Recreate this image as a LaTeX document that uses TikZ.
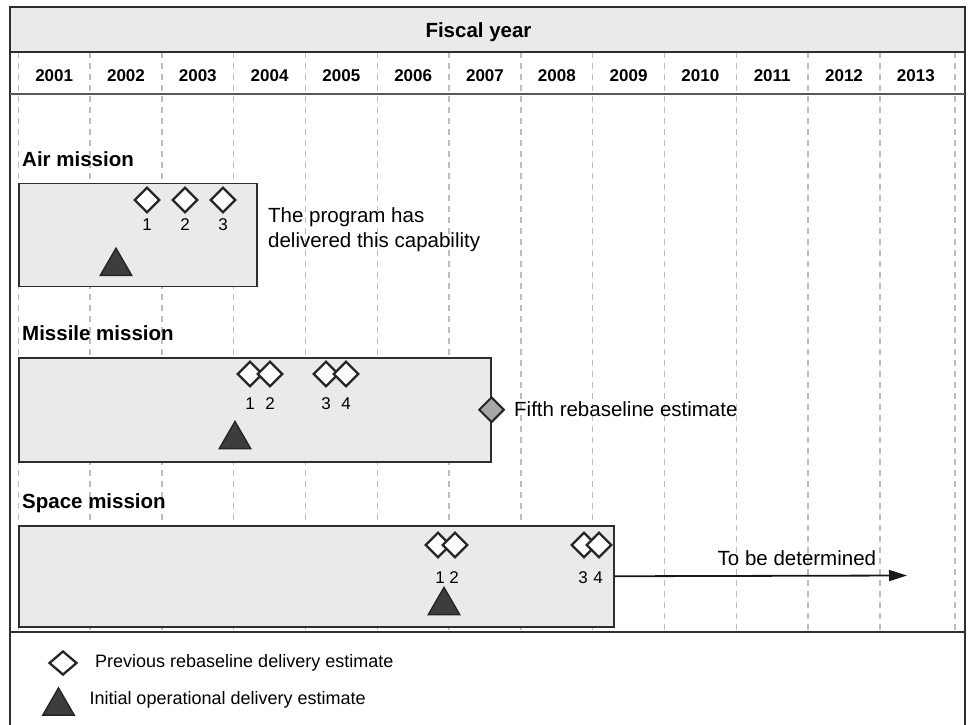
\documentclass[tikz,border=0pt]{standalone}
\usepackage{fontspec}
\setmainfont{Liberation Sans}
\usetikzlibrary{shapes.geometric, arrows.meta}

\definecolor{panel}{HTML}{EAEAEC}
\definecolor{rule}{HTML}{2E2E2E}
\definecolor{gridgray}{HTML}{BDBDBD}
\definecolor{iocfill}{HTML}{3D3D3D}
\definecolor{fifthfill}{HTML}{A6A7A9}

\begin{document}
\begin{tikzpicture}[x=1pt, y=-1pt,
        year/.style={font=\fontsize{17}{20}\selectfont\bfseries, anchor=base, inner sep=0},
        title/.style={font=\fontsize{20.5}{25}\selectfont\bfseries, anchor=base west, inner sep=0},
        txt/.style={font=\fontsize{20.5}{25}\selectfont, inner sep=0},
        num/.style={font=\fontsize{17}{20}\selectfont, anchor=base, inner sep=0},
        legendtxt/.style={font=\fontsize{18}{22}\selectfont, anchor=base west, inner sep=0},
        mission/.style={draw=rule, line width=1.5pt, fill=panel, anchor=north west, inner sep=0},
        estimate/.style={diamond, draw=black!85, line width=2.3pt, fill=white, inner sep=0, minimum width=25.5pt, minimum height=25.5pt},
        ioc/.style={regular polygon, regular polygon sides=3, draw=black!85, line width=1.5pt, fill=iocfill, inner sep=0, minimum size=36pt},
        yearline/.style={gridgray, line width=1.4pt, dash pattern=on 6pt off 5pt}]
        \useasboundingbox (0, 0) rectangle (970, 725);

        \draw[yearline] (18.3, 52) -- (18.3, 632);
        \draw[yearline] (90.1, 52) -- (90.1, 632);
        \draw[yearline] (161.9, 52) -- (161.9, 632);
        \draw[yearline] (233.7, 52) -- (233.7, 632);
        \draw[yearline] (305.5, 52) -- (305.5, 632);
        \draw[yearline] (377.3, 52) -- (377.3, 632);
        \draw[yearline] (449.1, 52) -- (449.1, 632);
        \draw[yearline] (520.9, 52) -- (520.9, 632);
        \draw[yearline] (592.7, 52) -- (592.7, 632);
        \draw[yearline] (664.5, 52) -- (664.5, 632);
        \draw[yearline] (736.3, 52) -- (736.3, 632);
        \draw[yearline] (808.1, 52) -- (808.1, 632);
        \draw[yearline] (879.9, 52) -- (879.9, 632);
        \draw[yearline] (955, 52) -- (955, 632);

        \draw[rule, line width=1.6pt, fill=panel] (10, 7) rectangle (965, 52);
        \draw[rule, line width=1.6pt] (10, 52) -- (10, 730);
        \draw[rule, line width=1.6pt] (965, 52) -- (965, 730);
        \draw[black!65, line width=1.6pt] (10, 94) -- (965, 94);
        \draw[rule, line width=1.3pt] (10, 632) -- (965, 632);

        \node[title, anchor=base] (fiscal) at (478.5, 37.7) {Fiscal year};

        \node[year] (y2001) at (54.2, 81.7) {2001};
        \node[year] (y2002) at (126, 81.7) {2002};
        \node[year] (y2003) at (197.8, 81.7) {2003};
        \node[year] (y2004) at (269.6, 81.7) {2004};
        \node[year] (y2005) at (341.4, 81.7) {2005};
        \node[year] (y2006) at (413.2, 81.7) {2006};
        \node[year] (y2007) at (485, 81.7) {2007};
        \node[year] (y2008) at (556.8, 81.7) {2008};
        \node[year] (y2009) at (628.6, 81.7) {2009};
        \node[year] (y2010) at (700.4, 81.7) {2010};
        \node[year] (y2011) at (772.2, 81.7) {2011};
        \node[year] (y2012) at (844, 81.7) {2012};
        \node[year] (y2013) at (915.8, 81.7) {2013};

        \node[title] (air) at (22, 166) {Air mission};
        \node[mission, minimum width=237.7pt, minimum height=103pt] (airbox) at (18.3, 182.7) {};
        \node[estimate] (a1) at (147, 200) {};
        \node[estimate] (a2) at (185, 200) {};
        \node[estimate] (a3) at (223, 200) {};
        \node[num] (na1) at (147, 230.7) {1};
        \node[num] (na2) at (185, 230.7) {2};
        \node[num] (na3) at (223, 230.7) {3};
        \node[ioc] (aioc) at (116, 266.3) {};
        \node[txt, anchor=west, align=left] (delivered) at (268, 229.5) {The program has\\delivered this capability};

        \node[title] (missile) at (22, 340) {Missile mission};
        \node[mission, minimum width=471.7pt, minimum height=104pt] (missilebox) at (18.3, 357) {};
        \node[estimate] (m1) at (250, 374) {};
        \node[estimate] (m2) at (270, 374) {};
        \node[estimate] (m3) at (326, 374) {};
        \node[estimate] (m4) at (346, 374) {};
        \node[num] (nm1) at (250, 409.6) {1};
        \node[num] (nm2) at (270, 409.6) {2};
        \node[num] (nm3) at (326, 409.6) {3};
        \node[num] (nm4) at (346, 409.6) {4};
        \node[ioc] (mioc) at (235, 439.5) {};
        \node[estimate, fill=fifthfill, line width=2pt] (fifth) at (missilebox.east) {};
        \node[txt, anchor=base west] (fifthtext) at (514, 416) {Fifth rebaseline estimate};

        \node[title] (space) at (22, 508) {Space mission};
        \node[mission, minimum width=594.7pt, minimum height=101pt] (spacebox) at (18.3, 525) {};
        \node[estimate] (s1) at (438, 545) {};
        \node[estimate] (s2) at (455, 545) {};
        \node[estimate] (s3) at (584, 545) {};
        \node[estimate] (s4) at (599, 545) {};
        \node[num] (ns1) at (440, 583.2) {1};
        \node[num] (ns2) at (454, 583.2) {2};
        \node[num] (ns3) at (583, 583.2) {3};
        \node[num] (ns4) at (598, 583.2) {4};
        \node[ioc] (sioc) at (444, 605.5) {};
        \coordinate (tbd) at (907, 575.5);
        \node[txt, anchor=base west] (tbdtext) at (717.5, 565.7) {To be determined};

        \draw[-{Triangle[length=18pt, width=11pt]}, black!90, line width=1.8pt] (spacebox.east) -- (tbd);

        \node[estimate, minimum width=28pt, minimum height=24pt] (legdiamond) at (63, 663) {};
        \node[legendtxt] (legprev) at (95, 667) {Previous rebaseline delivery estimate};
        \node[ioc] (legtriangle) at (58.5, 706) {};
        \node[legendtxt] (legioc) at (89.3, 704) {Initial operational delivery estimate};
    \end{tikzpicture}
\end{document}
